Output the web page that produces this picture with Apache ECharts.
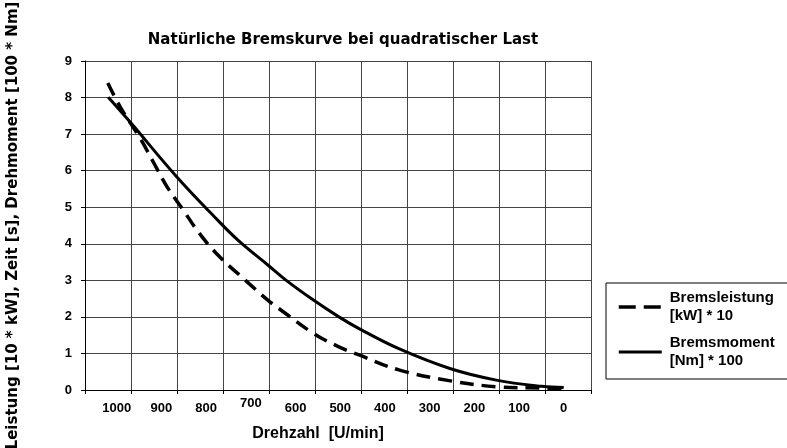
<!DOCTYPE html>
<html>
<head>
<meta charset="utf-8">
<script src="https://cdn.jsdelivr.net/npm/echarts@6/dist/echarts.min.js"></script>
<style>html,body{margin:0;padding:0;background:#fff}#c{width:787px;height:448px}</style>
</head>
<body>
<div id="c"></div>
<script>
const titleText = 'Natürliche Bremskurve bei quadratischer Last';
const xName = 'Drehzahl  [U/min]';
const yName = 'Leistung [10 * kW], Zeit [s], Drehmoment [100 * Nm]';
const xTickValues = [1000, 900, 800, 700, 600, 500, 400, 300, 200, 100, 0];
const yTickValues = [0, 1, 2, 3, 4, 5, 6, 7, 8, 9];
const seriesNames = ['Bremsleistung\n[kW] * 10', 'Bremsmoment\n[Nm] * 100'];
const rpmPower = [1020, 992, 947, 913, 887, 850, 816, 772, 712, 662, 623, 560, 503, 458, 369, 253, 151, 49, 0];
const powerVals = [8.4, 7.74, 6.87, 6.12, 5.55, 4.9, 4.3, 3.67, 3.0, 2.46, 2.1, 1.55, 1.18, 0.96, 0.55, 0.25, 0.09, 0.05, 0.03];
const rpmTorque = [1019, 970, 867, 772, 727, 662, 623, 560, 503, 458, 369, 253, 151, 49, 0];
const torqueVals = [8.01, 7.33, 5.85, 4.62, 4.08, 3.42, 3.02, 2.46, 2.0, 1.68, 1.13, 0.58, 0.27, 0.1, 0.07];

const FONT = 'Liberation Sans, Arial, sans-serif';
const WIDE = 'DejaVu Sans, sans-serif';
const DASH = [14, 8];
const chart = echarts.init(document.getElementById('c'));
chart.setOption({
  animation: false,
  backgroundColor: '#fff',
  title: {
    text: titleText, left: 338, top: 28, textAlign: 'center',
    textStyle: {fontFamily: WIDE, fontWeight: 'bold', fontSize: 15, color: '#000'}
  },
  legend: {
    orient: 'vertical', left: 606, top: 283,
    borderColor: '#000', borderWidth: 1, borderRadius: 0,
    padding: [6, 40, 9, 11],
    itemWidth: 43, itemHeight: 14, itemGap: 9,
    itemStyle: {opacity: 0},
    textStyle: {fontFamily: FONT, fontWeight: 'bold', fontSize: 15, color: '#000', lineHeight: 18, padding: [0, 0, 0, 3]},
    data: [
      {name: seriesNames[0], itemStyle: {opacity: 0}, lineStyle: {color: '#000', width: 3.5, type: [17, 8]}},
      {name: seriesNames[1], itemStyle: {opacity: 0}, lineStyle: {color: '#000', width: 3, type: 'solid'}}
    ]
  },
  grid: {left: 85, top: 61, width: 506, height: 329, outerBoundsMode: 'none', containLabel: false},
  xAxis: [
    {
      type: 'value', min: 0, max: 11, interval: 1, position: 'bottom',
      axisLine: {show: true, lineStyle: {color: '#000', width: 1}},
      axisTick: {show: true, length: 4, lineStyle: {color: '#000'}},
      axisLabel: {show: false},
      splitLine: {show: true, lineStyle: {color: '#444', width: 1}}
    },
    {
      type: 'value', inverse: true, min: -61, max: 1071, position: 'bottom',
      axisLine: {show: false}, axisTick: {show: false}, splitLine: {show: false},
      axisLabel: {
        customValues: xTickValues, margin: 7,
        formatter: v => v === 700 ? '{u|' + v + '}' : '{n|' + v + '}',
        rich: {
          n: {fontFamily: FONT, fontWeight: 'bold', fontSize: 13, color: '#000', padding: [5, 0, 0, 0]},
          u: {fontFamily: FONT, fontWeight: 'bold', fontSize: 13, color: '#000', padding: [0, 0, 0, 0]}
        }
      },
      name: xName, nameLocation: 'middle', nameGap: 36,
      nameTextStyle: {fontFamily: FONT, fontWeight: 'bold', fontSize: 16, color: '#000', padding: [0, 40, 0, 0]}
    }
  ],
  yAxis: {
    type: 'value', min: 0, max: 9, interval: 1,
    axisLine: {show: true, lineStyle: {color: '#000', width: 1}},
    axisTick: {show: true, length: 4, lineStyle: {color: '#000'}},
    axisLabel: {customValues: yTickValues, margin: 13, fontFamily: FONT, fontWeight: 'bold', fontSize: 13, color: '#000'},
    splitLine: {show: true, lineStyle: {color: '#444', width: 1}},
    name: yName, nameLocation: 'middle', nameGap: 64,
    nameTextStyle: {fontFamily: WIDE, fontWeight: 'bold', fontSize: 15, color: '#000'}
  },
  series: [
    {
      name: seriesNames[0], type: 'line', xAxisIndex: 1, smooth: 0.4, symbol: 'none',
      color: '#000', lineStyle: {color: '#000', width: 3.5, type: DASH},
      data: rpmPower.map((r, i) => [r, powerVals[i]])
    },
    {
      name: seriesNames[1], type: 'line', xAxisIndex: 1, smooth: 0.4, symbol: 'none',
      color: '#000', lineStyle: {color: '#000', width: 3, type: 'solid'},
      data: rpmTorque.map((r, i) => [r, torqueVals[i]])
    }
  ]
});
</script>
</body>
</html>
